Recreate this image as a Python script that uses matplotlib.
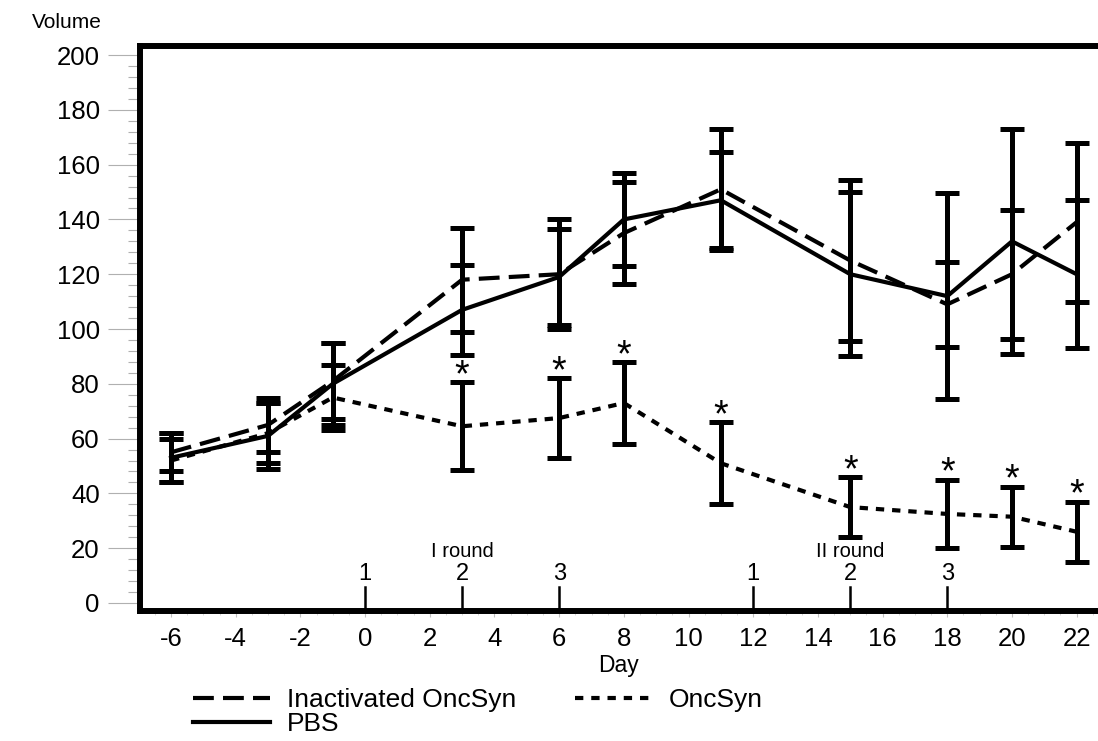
import numpy as np
import matplotlib.pyplot as plt
from matplotlib.ticker import MultipleLocator

# Data
days = [-6, -3, -1, 3, 6, 8, 11, 15, 18, 20, 22]

inact_mean = [55, 65, 81, 118, 120, 135, 151, 125, 109, 120, 139]
inact_err = [7, 10, 14, 19, 20, 18.5, 22, 29.5, 15.5, 23.5, 29]

pbs_mean = [53, 61, 80, 107, 119, 140, 147, 120, 112, 132, 120]
pbs_err = [9, 12, 15, 16.5, 17.5, 17, 17.5, 30, 37.5, 41, 27]

onc_mean = [52, 62, 75, 64.5, 67.5, 73, 51, 35, 32.5, 31.5, 26]
onc_err = [8, 11, 12, 16, 14.5, 15, 15, 11, 12.5, 11, 11]

star_days = [3, 6, 8, 11, 15, 18, 20, 22]

round_days = [0, 3, 6, 12, 15, 18]
round_nums = ["1", "2", "3", "1", "2", "3"]
round_names = {3: "I round", 15: "II round"}

plt.rcParams["font.family"] = ["Liberation Sans", "DejaVu Sans"]
plt.rcParams["axes.unicode_minus"] = False

fig = plt.figure(figsize=(10.98, 7.41), dpi=100)
ax = fig.add_axes([140 / 1098, (741 - 610.5) / 741, 1 - 140 / 1098, (610.5 - 46) / 741])

lw = 3.0
err_kw = dict(fmt="none", ecolor="black", elinewidth=3.6, capsize=8.3, capthick=3.6)

ax.errorbar(days, inact_mean, yerr=inact_err, **err_kw)
ax.errorbar(days, pbs_mean, yerr=pbs_err, **err_kw)
ax.errorbar(days, onc_mean, yerr=onc_err, **err_kw)

l1, = ax.plot(days, inact_mean, color="black", lw=lw, dashes=(5, 2.2),
              label="Inactivated OncSyn")
l2, = ax.plot(days, pbs_mean, color="black", lw=lw, label="PBS")
l3, = ax.plot(days, onc_mean, color="black", lw=lw, dashes=(2, 1.9), label="OncSyn")

# significance stars above OncSyn error bars
for d in star_days:
    i = days.index(d)
    ax.text(d, onc_mean[i] + onc_err[i] + 2.2, "*", ha="center", va="center",
            fontsize=27)

# treatment rounds marked above the x axis
for d, n in zip(round_days, round_nums):
    ax.plot([d, d], [-2.7, 6], color="black", lw=1.8, clip_on=False)
    ax.text(d, 6.5, n, ha="center", va="bottom", fontsize=17)
for d, name in round_names.items():
    ax.text(d, 15.5, name, ha="center", va="bottom", fontsize=14.5)

ax.set_xlim(-6.96, 22.66)
ax.set_ylim(-2.74, 203.3)

ax.set_xticks(np.arange(-6, 23, 2))
ax.xaxis.set_minor_locator(MultipleLocator(0.5))
ax.set_yticks(np.arange(0, 201, 20))
ax.yaxis.set_minor_locator(MultipleLocator(4))

ax.tick_params(axis="y", which="major", length=23, width=0.8, color="#b0b0b0",
               labelsize=18.5, pad=6)
ax.tick_params(axis="y", which="minor", length=9, width=0.8, color="#b0b0b0")
ax.tick_params(axis="x", which="major", length=4, width=0.8, color="#c0c0c0",
               labelsize=18.5, pad=8)
ax.tick_params(axis="x", which="minor", length=3, width=0.6, color="#d0d0d0")

for s in ["left", "top", "bottom"]:
    ax.spines[s].set_linewidth(4.3)
ax.spines["right"].set_visible(False)

ax.set_xlabel("Day", fontsize=16.5, labelpad=2)
fig.text(32 / 1098, 1 - 22 / 741, "Volume", fontsize=15, ha="left", va="center")

fig.legend(handles=[l1, l2, l3], ncol=2, loc="upper left",
           bbox_to_anchor=(193 / 1098, 1 - 688 / 741), frameon=False,
           fontsize=19, handlelength=2.9, handletextpad=0.67, columnspacing=2.2,
           labelspacing=0.0, borderpad=0, borderaxespad=0)

fig.savefig("out.png", dpi=100)
